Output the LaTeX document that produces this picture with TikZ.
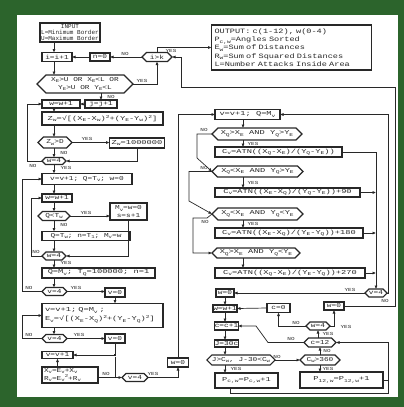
\documentclass[tikz,border=0pt]{standalone}
\usepackage{fontspec}
\usepackage{graphicx}
\usetikzlibrary{arrows.meta,shapes.symbols,calc}
\newfontfamily\twf[FakeStretch=1.3]{Liberation Mono}
\newfontfamily\twg[FakeStretch=1.45]{Liberation Mono}
\newfontfamily\twn{Liberation Mono}
\newcommand\sbs[1]{\raisebox{-0.45ex}{\scalebox{0.72}{#1}}}
\newcommand\sps[1]{\raisebox{0.75ex}{\scalebox{0.72}{#1}}}
\definecolor{framegreen}{RGB}{44,100,44}
\definecolor{ink}{RGB}{40,40,40}
\tikzset{
 base/.style={inner sep=0pt, outer sep=0pt, font=\twf\fontsize{6}{6.8}\selectfont, align=center, text=ink},
 wide/.style={font=\twg\fontsize{6}{6.8}\selectfont},
 bx/.style={base, draw=ink, line width=1.1pt, rectangle},
 hx/.style={base, draw=ink, line width=1.1pt, signal, signal to=east and west},
 ln/.style={draw=ink, line width=0.7pt},
 ar/.style={ln, -{Latex[length=3.5pt,width=3.2pt]}},
 lb/.style={inner sep=0pt, font=\twf\fontsize{4.6}{5}\selectfont, text=ink},
}
\begin{document}
\begin{tikzpicture}[x=1pt,y=-1pt]
\fill[framegreen] (0,0) rectangle (404,407);
\fill[white] (17,15) rectangle (398,397);
\useasboundingbox (0,0) rectangle (404,407);

% ---------------- left column ----------------
\node[bx, minimum width=60pt, minimum height=19pt, font=\twn\fontsize{6}{5.8}\selectfont] (input) at (70,32.5) {INPUT\\L=Minimum Border\\U=Maximum Border};
\node[bx, minimum width=30pt, minimum height=9pt] (ipp) at (57,57) {i=i+1};
\node[bx, minimum width=20pt, minimum height=8pt] (n0) at (100,57) {n=0};
\node[hx, minimum width=30pt, minimum height=9pt] (hexik) at (157,57) {i>k};
\node[bx, minimum width=160pt, minimum height=45pt, text width=154pt, align=left, font=\twf\fontsize{6.6}{8.2}\selectfont] (output) at (291.5,47.5) {OUTPUT: c(1-12), w(0-4)\\P\sbs{c,w}=Angles Sorted\\E\sbs{w}=Sum of Distances\\R\sbs{w}=Sum of Squared Distances\\L=Number Attacks Inside Area};
\node[hx, minimum width=96pt, minimum height=18pt, font=\twf\fontsize{6}{7.5}\selectfont] (bighex) at (85,84) {X\sbs{E}>U OR X\sbs{E}<L OR\\Y\sbs{E}>U OR Y\sbs{E}<L};
\node[bx, minimum width=32pt, minimum height=8pt] (jpp) at (101,104) {j=j+1};
\node[bx, minimum width=38pt, minimum height=8pt] (wpp1) at (61,104) {w=w+1};
\node[bx, wide, minimum width=121pt, minimum height=13pt] (zbox) at (102.5,118.5) {Z\sbs{w}=√[(X\sbs{E}-X\sbs{w})\sps{2}+(Y\sbs{E}-Y\sbs{w})\sps{2}]};
\node[hx, minimum width=34pt, minimum height=11pt] (hexzd) at (55,142.5) {Z\sbs{w}>D};
\node[bx, wide, minimum width=55pt, minimum height=10pt] (zbig) at (137,143) {Z\sbs{w}=1000000};
\node[hx, minimum width=24pt, minimum height=7pt] (hexw4a) at (54,161) {w=4};
\node[bx, minimum width=90pt, minimum height=11pt] (vbox1) at (87,179) {v=v+1; Q=T\sbs{v}; w=0};
\node[bx, minimum width=30pt, minimum height=8pt] (wpp2) at (57,198) {w=w+1};
\node[hx, minimum width=32pt, minimum height=9pt] (hexqt) at (54,216) {Q<T\sbs{w}};
\node[bx, minimum width=37pt, minimum height=17pt, font=\twf\fontsize{6}{7.5}\selectfont] (mbox) at (128.5,211.5) {M\sbs{v}=w=0\\s=s+1};
\node[bx, minimum width=88pt, minimum height=9pt] (qbox) at (86,236) {Q=T\sbs{w}; n=T\sbs{1}; M\sbs{v}=w};
\node[hx, minimum width=24pt, minimum height=8pt] (hexw4b) at (54,256) {w=4};
\node[bx, wide, minimum width=113pt, minimum height=10pt] (qm) at (98.5,273) {Q=M\sbs{v}; T\sbs{Q}=100000; n=1};
\node[hx, minimum width=25pt, minimum height=8pt] (hexv4a) at (54.5,291.5) {v=4};
\node[bx, minimum width=20pt, minimum height=9pt] (v0a) at (115,292.5) {v=0};
\node[bx, minimum width=121pt, minimum height=24pt, text width=115pt, align=left, font=\twg\fontsize{6}{9}\selectfont] (ebox) at (102.5,315.5) {v=v+1;  Q=M\sbs{v} ;\\E\sbs{v}=√[(X\sbs{E}-X\sbs{Q})\sps{2}+(Y\sbs{E}-Y\sbs{Q})\sps{2}]};
\node[hx, minimum width=25pt, minimum height=8pt] (hexv4b) at (54.5,338.5) {v=4};
\node[bx, minimum width=20pt, minimum height=9pt] (v0b) at (115,338.5) {v=0};
\node[bx, minimum width=31pt, minimum height=7pt] (vpp) at (57.5,355) {v=v+1};
\node[bx, minimum width=56pt, minimum height=16pt, text width=52pt, align=left, font=\twf\fontsize{6}{7.5}\selectfont] (sbox) at (70,375) {X\sbs{v}=E\sbs{v}+X\sbs{v}\\R\sbs{v}=E\sbs{v}\sps{2}+R\sbs{v}};
\node[hx, minimum width=26pt, minimum height=8pt] (hexv4c) at (135,377.5) {v=4};
\node[bx, minimum width=21pt, minimum height=9pt] (w0a) at (178,362.5) {w=0};
\coordinate (jn) at (115,355);
\node[fill=ink, minimum size=2.6pt, inner sep=0pt] (jdot) at (jn) {};

% ---------------- right column ----------------
\node[bx, wide, minimum width=65pt, minimum height=10pt] (rbox1) at (247.5,114.5) {v=v+1;  Q=M\sbs{v}};
\node[hx, wide, minimum width=90pt, minimum height=12pt] (rhex1) at (257,134) {X\sbs{Q}>X\sbs{E} AND Y\sbs{Q}>Y\sbs{E}};
\node[bx, wide, minimum width=127pt, minimum height=10pt] (rc1) at (278.5,152) {C\sbs{v}=ATN((X\sbs{Q}-X\sbs{E})/(Y\sbs{Q}-Y\sbs{E}))};
\node[hx, wide, minimum width=91pt, minimum height=11pt] (rhex2) at (257.5,171.5) {X\sbs{Q}<X\sbs{E} AND Y\sbs{Q}>Y\sbs{E}};
\node[bx, wide, minimum width=145pt, minimum height=9pt] (rc2) at (287.5,192.5) {C\sbs{v}=ATN((X\sbs{E}-X\sbs{Q})/(Y\sbs{Q}-Y\sbs{E}))+90};
\node[hx, wide, minimum width=91pt, minimum height=12pt] (rhex3) at (257.5,214) {X\sbs{Q}<X\sbs{E} AND Y\sbs{Q}<Y\sbs{E}};
\node[bx, wide, minimum width=148pt, minimum height=10pt] (rc3) at (289,233) {C\sbs{v}=ATN((X\sbs{E}-X\sbs{Q})/(Y\sbs{E}-Y\sbs{Q}))+180};
\node[hx, wide, minimum width=88pt, minimum height=10pt] (rhex4) at (256,253) {X\sbs{Q}>X\sbs{E} AND Y\sbs{Q}<Y\sbs{E}};
\node[bx, wide, minimum width=150pt, minimum height=10pt] (rc4) at (290,273) {C\sbs{v}=ATN((X\sbs{Q}-X\sbs{E})/(Y\sbs{E}-Y\sbs{Q}))+270};
\node[hx, minimum width=18pt, minimum height=8pt] (rv4) at (376,293) {v=4};
\node[bx, minimum width=18pt, minimum height=8pt] (w0b) at (225,293) {w=0};
\node[bx, minimum width=24pt, minimum height=7pt] (wpp3) at (225,308.5) {w=w+1};
\node[bx, minimum width=23pt, minimum height=9pt] (c0) at (278.5,308) {c=0};
\node[hx, minimum width=24pt, minimum height=8pt] (rw4) at (318,326) {w=4};
\node[bx, minimum width=20pt, minimum height=8pt] (w0c) at (334,306) {w=0};
\node[hx, minimum width=32pt, minimum height=9pt] (rc12) at (320,342.5) {c=12};
\node[bx, minimum width=23pt, minimum height=8pt] (cpp) at (226.5,326) {c=c+1};
\node[bx, minimum width=23pt, minimum height=7pt] (jbox) at (226.5,343.5) {J=30c};
\node[hx, minimum width=58pt, minimum height=10pt] (jhex) at (241,360) {J>C\sbs{w}, J-30<C\sbs{w}};
\node[hx, minimum width=40pt, minimum height=10pt] (c360) at (320,360) {C\sbs{w}>360};
\node[bx, wide, minimum width=63pt, minimum height=15pt] (pcw) at (246.5,380.5) {P\sbs{c,w}=P\sbs{c,w}+1};
\node[bx, wide, minimum width=83pt, minimum height=16pt] (p12) at (341.5,380) {P\sbs{12,w}=P\sbs{12,w}+1};

% ---------------- connectors, left ----------------
\coordinate (sp) at (54,0);
\draw[ar] (input.south -| sp) -- (ipp.north -| sp);
\draw[ar] (ipp.south -| sp) -- (bighex.north -| sp);
\draw[ar] (hexik.west) -- (n0.east);
\draw[ar] (n0.west) -- (ipp.east);
\draw[ar] (bighex.east) -| (hexik.south);
\draw[ar] (hexik.north) |- (output.west);
\draw[ar] (w0c.east) -- (395,306) -- (395,87) -- (181,87) -- (181,57) -- (hexik.east);
\draw[ar] (bighex.south -| jpp) -- (jpp.north);
\draw[ar] (jpp.west) -- (wpp1.east);
\draw[ar] (wpp1.south -| sp) -- (zbox.north -| sp);
\draw[ar] (zbox.south -| sp) -- (hexzd.north -| sp);
\draw[ar] (hexzd.east) -- (zbig.west |- hexzd.east);
\draw[ar] (hexzd.south -| sp) -- (hexw4a.north -| sp);
\draw[ar] (zbig.south) |- (hexw4a.east);
\draw[ar] (hexw4a.west) -| (27,104) -- (wpp1.west);
\draw[ar] (hexw4a.south -| sp) -- (vbox1.north -| sp);
\draw[ar] (vbox1.south -| sp) -- (wpp2.north -| sp);
\draw[ar] (wpp2.south -| sp) -- (hexqt.north -| sp);
\draw[ar] (hexqt.east) -- (mbox.west |- hexqt.east);
\draw[ar] (hexqt.south -| sp) -- (qbox.north -| sp);
\draw[ar] (qbox.south -| sp) -- (hexw4b.north -| sp);
\draw[ar] (mbox.south) |- (hexw4b.east);
\draw[ar] (hexw4b.west) -| (31,198) -- (wpp2.west);
\draw[ar] (hexw4b.south -| sp) -- (qm.north -| sp);
\draw[ar] (qm.south -| sp) -- (hexv4a.north -| sp);
\draw[ar] (hexv4a.east) -- (v0a.west |- hexv4a.east);
\draw[ar] (hexv4a.west) -| (22,179) -- (vbox1.west);
\draw[ar] (v0a.south) -- (v0a.south |- ebox.north);
\draw[ar] (ebox.south -| sp) -- (hexv4b.north -| sp);
\draw[ar] (hexv4b.east) -- (v0b.west |- hexv4b.east);
\draw[ar] (hexv4b.west) -| (22,315.5) -- (ebox.west);
\draw[ln] (v0b.south) -- (jdot);
\draw[ar] (jdot) -- (vpp.east);
\draw[ln] (jdot) -- (jdot |- hexv4c.west);
\draw[ar] (sbox.east |- hexv4c.west) -- (hexv4c.west);
\draw[ar] (sbox.north -| vpp) -- (vpp.south);
\draw[ar] (hexv4c.east) -| (w0a.south);
\draw[ar] (w0a.north) |- (rbox1.west);

% ---------------- connectors, right ----------------
\coordinate (rs) at (243,0);
\draw[ar] (rbox1.south -| rs) -- (rhex1.north -| rs);
\draw[ar] (rhex1.south -| rs) -- (rc1.north -| rs);
\draw[ar] (rhex1.west) -- (197,134) -- (197,158) -- (rhex2.west);
\draw[ar] (rhex2.south -| rs) -- (rc2.north -| rs);
\draw[ar] (rhex2.west) -- (189,171.5) -- (189,201) -- (rhex3.west);
\draw[ar] (rhex3.south -| rs) -- (rc3.north -| rs);
\draw[ar] (rhex3.west) -- ++(-5,4) -- (193,218) -- (193,253) -- (rhex4.west);
\draw[ar] (rhex4.south -| rs) -- (rc4.north -| rs);
\draw[ar] (rc1.east) -| (rv4.north);
\draw[ar] (rc2.east) -- (rc2.east -| rv4);
\draw[ar] (rc3.east) -- (rc3.east -| rv4);
\draw[ar] (rc4.east) -- (rc4.east -| rv4);
\draw[ar] (rv4.west) -- (w0b.east);
\draw[ar] (rv4.east) -- (388,293) -- (388,114.5) -- (rbox1.east);
\coordinate (bs) at (225,0);
\draw[ar] (w0b.south -| bs) -- (wpp3.north -| bs);
\draw[ar] (c0.west) -- (wpp3.east);
\draw[ar] (rw4.west) -| (c0.south);
\draw[ar] (rw4.east) -| (w0c.south);
\draw[ar] (rc12.north -| rw4) -- (rw4.south);
\draw[ar] (rc12.west) -- (268,342.5) -- (256,326) -- (cpp.east);
\draw[ar] (wpp3.south -| bs) -- (cpp.north -| bs);
\draw[ar] (cpp.south -| bs) -- (jbox.north -| bs);
\draw[ar] (jbox.south -| bs) -- (jhex.north -| bs);
\draw[ar] (jhex.east) -- (c360.west);
\draw[ar] (c360.north) -- (c360.north |- rc12.south);
\draw[ar] (c360.south) -- (c360.south |- p12.north);
\draw[ar] (jhex.south -| bs) -- (pcw.north -| bs);
\draw[ar] (pcw.south -| 230,0) -- (230,393) -- (388,393) -- (388,342.5) -- (rc12.east);
\draw[ln] (p12.east) -- (388,380);

% ---------------- labels ----------------
\node[lb] (l1) at (125,53.5) {NO};
\node[lb] (l2) at (142,80.5) {YES};
\node[lb] (l3) at (171,50.5) {YES};
\node[lb] (l4) at (111,97) {NO};
\node[lb] (l5) at (87,139) {YES};
\node[lb] (l6) at (64,153) {NO};
\node[lb] (l7) at (33,166) {NO};
\node[lb] (l8) at (66,168) {YES};
\node[lb] (l9) at (86,212.5) {YES};
\node[lb] (l10) at (64,225) {NO};
\node[lb] (l11) at (36,251.5) {NO};
\node[lb] (l12) at (66,263) {YES};
\node[lb] (l13) at (76,288) {YES};
\node[lb] (l14) at (29,288) {NO};
\node[lb] (l15) at (79,335) {YES};
\node[lb] (l16) at (29,335) {NO};
\node[lb] (l17) at (106,373.5) {NO};
\node[lb] (l18) at (153,374) {YES};
\node[lb] (l19) at (204,130) {NO};
\node[lb] (l20) at (253,144) {YES};
\node[lb] (l21) at (204,167.5) {NO};
\node[lb] (l22) at (253,183) {YES};
\node[lb] (l23) at (205,222) {NO};
\node[lb] (l24) at (253,224) {YES};
\node[lb] (l25) at (350,289.5) {YES};
\node[lb] (l26) at (385,300.5) {NO};
\node[lb] (l27) at (296,322.5) {NO};
\node[lb] (l28) at (346,327) {YES};
\node[lb] (l29) at (328,334) {YES};
\node[lb] (l30) at (291,339) {NO};
\node[lb] (l31) at (277,357) {NO};
\node[lb] (l32) at (327,351) {NO};
\node[lb] (l33) at (328,368.5) {YES};
\node[lb] (l34) at (236,369) {YES};
\end{tikzpicture}
\end{document}
